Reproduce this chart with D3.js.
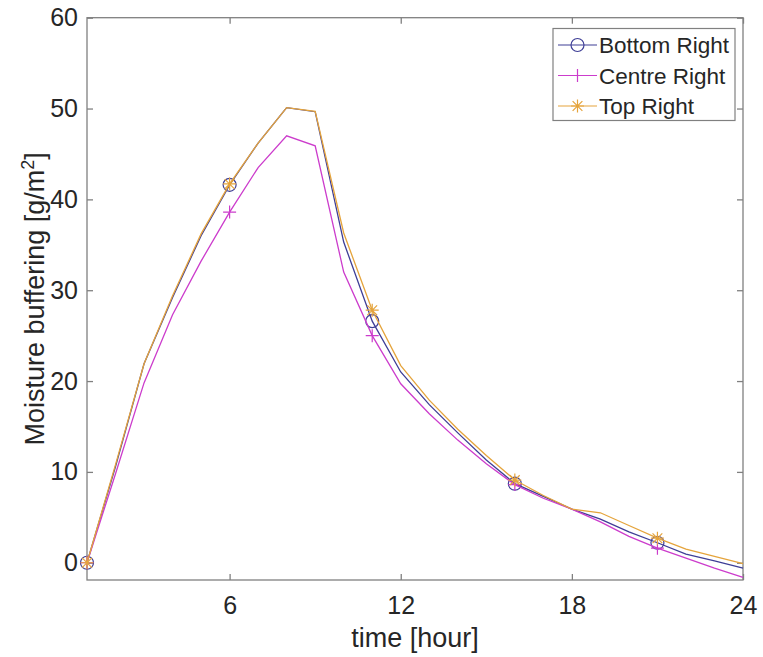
<!DOCTYPE html>
<html><head><meta charset="utf-8">
<script src="https://cdn.jsdelivr.net/npm/d3@7"></script>
<style>body{margin:0;background:#fff}svg{display:block}text{font-family:"Liberation Sans",Arial,sans-serif;fill:#262626}</style>
</head><body><svg id="c" width="763" height="657"></svg>
<script>
const hours = [1,2,3,4,5,6,7,8,9,10,11,12,13,14,15,16,17,18,19,20,21,22,23,24];
const bottomRight = [0,10.6,21.9,29.2,36.0,41.6,46.2,50.1,49.65,35.3,26.6,21.0,17.4,14.3,11.3,8.7,7.3,5.9,4.8,3.4,2.2,0.95,0.2,-0.6];
const centreRight = [0,9.8,19.8,27.3,33.2,38.6,43.5,47.0,45.9,32.0,25.0,19.7,16.4,13.5,10.9,8.6,7.1,5.9,4.5,2.9,1.6,0.5,-0.6,-1.6];
const topRight    = [0,10.8,21.9,29.4,36.2,41.7,46.2,50.1,49.7,36.3,27.8,21.7,17.9,14.7,11.8,9.1,7.4,5.9,5.5,4.1,2.7,1.5,0.7,-0.1];
const seriesNames = ["Bottom Right","Centre Right","Top Right"];
const seriesColors = ["#3e3e96","#cc3ccc","#e5a43c"];
const seriesMarkers = ["circle","plus","star"];
const markerHours = [1,6,11,16,21];
const xTicks = [6,12,18,24];
const yTicks = [0,10,20,30,40,50,60];

const svg = d3.select("#c");
const L=87,R=743,T=17.7,B=580;
const x = d3.scaleLinear().domain([1,24]).range([L,R]);
const y = d3.scaleLinear().domain([-1.9,60]).range([B,T]);
const axisColor="#808080";

svg.append("rect").attr("x",L).attr("y",T).attr("width",R-L).attr("height",B-T)
  .attr("fill","none").attr("stroke",axisColor).attr("stroke-width",1.3);

const gx = svg.append("g").attr("transform",`translate(0,${B})`)
  .call(d3.axisBottom(x).tickValues(xTicks).tickSizeInner(-6).tickSizeOuter(0).tickPadding(16));
const gxt = svg.append("g").attr("transform",`translate(0,${T})`)
  .call(d3.axisTop(x).tickValues(xTicks).tickSizeInner(-6).tickSizeOuter(0).tickFormat(""));
const gy = svg.append("g").attr("transform",`translate(${L},0)`)
  .call(d3.axisLeft(y).tickValues(yTicks).tickSizeInner(-6).tickSizeOuter(0).tickPadding(9));
const gyr = svg.append("g").attr("transform",`translate(${R},0)`)
  .call(d3.axisRight(y).tickValues(yTicks).tickSizeInner(-6).tickSizeOuter(0).tickFormat(""));
[gx,gxt,gy,gyr].forEach(g=>{
  g.select(".domain").remove();
  g.selectAll(".tick line").attr("stroke",axisColor).attr("stroke-width",1.3);
  g.selectAll(".tick text").style("font-size","25px").attr("fill","#262626");
});

const seriesData=[bottomRight,centreRight,topRight];
const line = d3.line().x((d,i)=>x(hours[i])).y(d=>y(d));

function drawMarker(g,type,cx,cy,color){
  const s=6.5;
  if(type==="circle"){
    g.append("circle").attr("cx",cx).attr("cy",cy).attr("r",s).attr("fill","none").attr("stroke",color).attr("stroke-width",1.2);
  } else if(type==="plus"){
    g.append("path").attr("d",`M${cx-s},${cy}H${cx+s}M${cx},${cy-s}V${cy+s}`).attr("stroke",color).attr("stroke-width",1.2).attr("fill","none");
  } else {
    const d=s*0.75;
    g.append("path").attr("d",`M${cx-s},${cy}H${cx+s}M${cx},${cy-s}V${cy+s}M${cx-d},${cy-d}L${cx+d},${cy+d}M${cx-d},${cy+d}L${cx+d},${cy-d}`)
      .attr("stroke",color).attr("stroke-width",1.2).attr("fill","none");
  }
}

const plot = svg.append("g");
seriesData.forEach((vals,k)=>{
  plot.append("path").attr("d",line(vals)).attr("fill","none").attr("stroke",seriesColors[k]).attr("stroke-width",1.3);
  markerHours.forEach(h=>{
    const i=hours.indexOf(h);
    drawMarker(plot,seriesMarkers[k],x(h),y(vals[i]),seriesColors[k]);
  });
});

const lg = svg.append("g");
lg.append("rect").attr("x",553).attr("y",28.5).attr("width",182).attr("height",92)
  .attr("fill","#fff").attr("stroke",axisColor).attr("stroke-width",1.2);
seriesNames.forEach((n,k)=>{
  const yy=45+k*30.5;
  lg.append("line").attr("x1",558).attr("x2",597).attr("y1",yy).attr("y2",yy).attr("stroke",seriesColors[k]).attr("stroke-width",1.2);
  drawMarker(lg,seriesMarkers[k],577.5,yy,seriesColors[k]);
  lg.append("text").attr("x",599).attr("y",yy+8).style("font-size","22.5px").text(n);
});

svg.append("text").attr("x",(L+R)/2).attr("y",647).attr("text-anchor","middle").style("font-size","27px").text("time [hour]");
const yl = svg.append("text").attr("transform",`translate(44,${(T+B)/2}) rotate(-90)`).attr("text-anchor","middle").style("font-size","27px");
yl.append("tspan").text("Moisture buffering [g/m");
yl.append("tspan").attr("dy",-10).style("font-size","18px").text("2");
yl.append("tspan").attr("dy",10).text("]");
</script></body></html>
